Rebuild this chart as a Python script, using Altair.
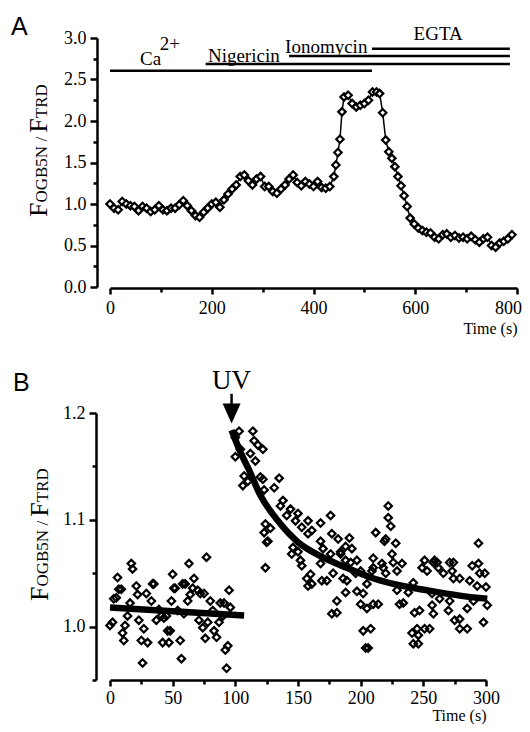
import altair as alt
import pandas as pd

SERIF = "Liberation Serif"
SANS = "Liberation Sans"

# ---------------- Panel A data ----------------
a_time = [0, 8, 16, 24, 32, 40, 48, 56, 64, 72, 80, 88, 96, 104, 112, 120, 128, 136, 144, 152,
          160, 168, 176, 184, 192, 200, 208, 216, 224, 232, 240, 248, 256, 264, 272, 280, 288, 296,
          304, 312, 320, 328, 336, 344, 352, 360, 368, 376, 384, 392, 400, 408, 416, 424, 432, 440,
          444, 448, 452, 456, 460, 468, 476, 484, 492, 500, 508, 516, 524, 530, 536, 542, 548, 554,
          560, 566, 572, 578, 584, 590, 598, 606, 614, 622, 630, 638, 646, 654, 662, 670, 678, 686,
          694, 702, 710, 718, 726, 734, 742, 750, 758, 766, 774, 782, 790]
a_ratio = [1.00, 0.95, 0.93, 1.03, 1.00, 0.98, 0.97, 0.92, 0.97, 0.95, 0.91, 0.93, 0.98, 0.93, 0.92,
           0.95, 0.95, 0.99, 1.04, 0.98, 0.92, 0.86, 0.84, 0.90, 0.95, 1.00, 1.02, 0.96, 1.05, 1.12,
           1.18, 1.23, 1.33, 1.35, 1.28, 1.23, 1.30, 1.33, 1.21, 1.21, 1.15, 1.13, 1.18, 1.23, 1.30,
           1.35, 1.26, 1.22, 1.27, 1.24, 1.21, 1.27, 1.20, 1.19, 1.21, 1.33, 1.47, 1.62, 1.78, 2.11,
           2.29, 2.31, 2.21, 2.17, 2.19, 2.21, 2.25, 2.35, 2.35, 2.33, 2.10, 1.77, 1.63, 1.55, 1.45,
           1.33, 1.22, 1.10, 0.97, 0.83, 0.76, 0.71, 0.68, 0.66, 0.65, 0.60, 0.58, 0.63, 0.64, 0.60,
           0.62, 0.59, 0.60, 0.58, 0.61, 0.57, 0.54, 0.58, 0.60, 0.50, 0.48, 0.53, 0.55, 0.58, 0.63]

bar_name = ["Ca2+", "Nigericin", "Ionomycin", "EGTA"]
bar_start = [0, 188, 352, 515]
bar_end = [515, 786, 786, 786]
bar_level = [2.606, 2.687, 2.783, 2.871]

label_text = ["Nigericin", "Ionomycin", "EGTA"]
label_time = [263, 425, 645]
label_level = [2.71, 2.82, 2.976]

ca_text = ["Ca", "2+"]
ca_time = [59, 98]
ca_level = [2.675, 2.855]

# ---------------- Panel B data ----------------
b_time_pre = [0, 2, 3, 5, 6, 7, 9, 10, 11, 12, 14, 16, 17, 18, 21, 22, 23, 25, 26, 27,
              29, 30, 33, 34, 35, 37, 39, 41, 42, 43, 45, 46, 47, 48, 49, 50, 51, 52, 54, 56,
              57, 58, 59, 60, 62, 63, 64, 66, 67, 70, 71, 72, 74, 75, 76, 77, 78, 80, 82, 83,
              85, 87, 88, 90, 91, 92, 93, 94, 95, 96]
b_ratio_pre = [1.001, 1.004, 1.026, 1.027, 1.046, 1.035, 1.035, 0.994, 0.987, 1.001,
               1.010, 1.022, 1.059, 1.054, 1.038, 1.030, 1.006, 0.987, 0.966, 0.998,
               1.031, 0.985, 1.024, 1.040, 1.040, 1.006, 1.016, 1.010, 0.985, 1.008,
               1.010, 0.996, 0.985, 0.996, 1.024, 1.049, 1.036, 1.036, 1.015, 0.987,
               0.970, 1.040, 1.012, 1.040, 1.024, 1.059, 1.030, 1.036, 1.045, 1.034,
               1.006, 1.031, 0.999, 1.031, 0.989, 1.065, 1.004, 1.024, 1.015, 0.996,
               0.990, 1.004, 1.022, 1.010, 1.022, 0.978, 0.961, 0.982, 1.034, 1.018]

b_time_post = [100, 100, 103, 104, 106, 107, 110, 112, 114, 115,
               116, 118, 120, 122, 122, 123, 123, 124, 124, 125,
               126, 128, 131, 135, 136, 138, 141, 144, 145, 146,
               148, 150, 150, 152, 153, 153, 157, 158, 158, 158,
               160, 161, 161, 168, 168, 168, 169, 170, 173, 176,
               176, 177, 177, 178, 181, 181, 182, 184, 184, 186,
               188, 188, 188, 189, 191, 192, 193, 196, 197, 197,
               200, 200, 202, 202, 204, 205, 205, 206, 208, 209,
               210, 210, 210, 212, 214, 217, 218, 219, 220, 220,
               222, 222, 224, 225, 226, 228, 229, 229, 231, 233,
               234, 238, 241, 242, 242, 243, 245, 246, 246, 247,
               249, 251, 251, 253, 255, 257, 257, 258, 258, 259,
               261, 262, 263, 266, 270, 271, 271, 273, 274, 274,
               275, 279, 279, 279, 285, 285, 287, 289, 290, 293,
               294, 294, 295, 298, 299, 300, 301]
b_ratio_post = [1.177, 1.159, 1.183, 1.166, 1.132, 1.141, 1.136, 1.162, 1.183, 1.174,
                1.155, 1.170, 1.140, 1.166, 1.138, 1.128, 1.088, 1.096, 1.055, 1.079,
                1.080, 1.092, 1.130, 1.139, 1.113, 1.118, 1.104, 1.110, 1.068, 1.074,
                1.099, 1.106, 1.070, 1.062, 1.093, 1.057, 1.045, 1.099, 1.038, 1.087,
                1.049, 1.040, 1.090, 1.097, 1.080, 1.059, 1.043, 1.073, 1.043, 1.104,
                1.068, 1.087, 1.012, 1.050, 1.024, 1.013, 1.082, 1.070, 1.068, 1.045,
                1.062, 1.032, 1.075, 1.043, 1.083, 1.060, 1.073, 1.050, 1.062, 1.033,
                1.052, 1.021, 1.031, 0.996, 0.980, 1.040, 1.017, 0.980, 0.998, 1.052,
                1.064, 1.021, 1.055, 1.088, 1.021, 1.059, 1.055, 1.080, 1.082, 1.050,
                1.113, 1.102, 1.094, 1.068, 1.060, 1.078, 1.052, 1.034, 1.021, 1.059,
                1.022, 1.032, 0.994, 1.041, 0.984, 1.013, 0.998, 0.992, 0.984, 1.015,
                1.055, 1.062, 0.998, 1.052, 0.998, 1.020, 1.031, 1.060, 1.012, 1.062,
                1.060, 1.055, 1.026, 1.050, 1.015, 1.024, 1.060, 1.052, 1.045, 1.060,
                1.006, 1.045, 1.007, 0.998, 1.017, 0.998, 1.043, 1.057, 1.024, 1.038,
                1.078, 1.059, 1.050, 1.004, 1.050, 1.037, 1.020]

base_fit_time = [0, 107]
base_fit_ratio = [1.0178, 1.0103]
decay_fit_time = [97, 100, 105, 110, 120, 134, 150, 168, 189, 208, 226, 253, 279, 301]
decay_fit_ratio = [1.184, 1.175, 1.161, 1.149, 1.123, 1.099, 1.079, 1.066, 1.055, 1.046,
                   1.040, 1.034, 1.029, 1.026]

uv_time = [97]
uv_text_level = [1.2225]
uv_shaft_top = [1.218]
uv_shaft_bottom = [1.205]
uv_head_level = [1.1995]

# ---------------- helpers ----------------
def axis_common(**kw):
    base = dict(grid=False, domainColor="black", domainWidth=2.5, tickColor="black",
                tickWidth=2.5, labelColor="black", labelFont=SERIF, labelFontSize=18,
                labelOverlap=False, labelFlush=False, titleFont=SERIF, titleFontSize=16,
                titleFontWeight="normal", titleColor="black")
    base.update(kw)
    return alt.Axis(**base)

# Times New Roman advance widths (em)
TW = {"F": 0.556, "O": 0.722, "G": 0.722, "B": 0.667, "5": 0.5, "N": 0.722, " ": 0.25,
      "/": 0.278, "T": 0.611, "R": 0.667, "D": 0.722}
BIG, SMALL = 26, 17
pieces = [("F", BIG), ("OGB5N / ", SMALL), ("F", BIG), ("TRD", SMALL)]


def ytitle_layers(x_base, y_bottom):
    layers = []
    pos = y_bottom
    for txt, size in pieces:
        layers.append(
            alt.Chart(pd.DataFrame({"t": [txt]})).mark_text(
                font=SERIF, fontSize=size, angle=270, align="left", baseline="alphabetic",
                color="black"
            ).encode(x=alt.value(x_base), y=alt.value(pos), text="t:N")
        )
        pos -= sum(TW[c] for c in txt) * size
    return layers


# ---------------- Panel A ----------------
WA, HA = 407, 249
dfa = pd.DataFrame({"t": a_time, "r": a_ratio})
xa_scale = alt.Scale(domain=[0, 800], nice=False, zero=False)
ya_scale = alt.Scale(domain=[0, 3], nice=False, zero=False)

xa_axis = axis_common(values=list(range(0, 801, 100)),
                      labelExpr="datum.value % 200 == 0 ? datum.label : ''",
                      tickSize={"condition": {"test": "datum.value % 200 == 0", "value": 6}, "value": 4},
                      labelOffset={"condition": {"test": "datum.value == 800", "value": -9}, "value": 0},
                      labelPadding=5, offset=1, title="Time (s)", titleAnchor="end",
                      titleX=WA, titleY=45, titleAlign="right", titleBaseline="alphabetic")
ya_axis = axis_common(values=[i * 0.25 for i in range(13)], format=".1f",
                      labelExpr="round(datum.value * 4) % 2 == 0 ? datum.label : ''",
                      tickSize={"condition": {"test": "round(datum.value * 4) % 2 == 0", "value": 7}, "value": 4},
                      labelPadding=4, offset=13, title="")


def XA(f):
    return alt.X(f, scale=xa_scale, axis=xa_axis, title="Time (s)")


def YA(f):
    return alt.Y(f, scale=ya_scale, axis=ya_axis, title="")


line_a = alt.Chart(dfa).mark_line(color="black", strokeWidth=1.5).encode(
    x=XA("t:Q"), y=YA("r:Q"))
pts_a = alt.Chart(dfa).mark_point(shape="diamond", size=55, filled=True, fill="white",
                                  stroke="black", strokeWidth=2.2, opacity=1).encode(
    x=XA("t:Q"), y=YA("r:Q"))
bars_a = alt.Chart(pd.DataFrame({"n": bar_name, "s": bar_start, "e": bar_end, "l": bar_level})).mark_rule(
    color="black", strokeWidth=2.5).encode(
    x=XA("s:Q"), x2="e:Q", y=YA("l:Q"))
labels_a = alt.Chart(pd.DataFrame({"txt": label_text, "t": label_time, "l": label_level})).mark_text(
    font=SERIF, fontSize=19, align="center", baseline="alphabetic", color="black").encode(
    x=XA("t:Q"), y=YA("l:Q"), text="txt:N")
ca_a = alt.Chart(pd.DataFrame({"txt": ca_text, "t": ca_time, "l": ca_level})).mark_text(
    font=SERIF, fontSize=19, align="left", baseline="alphabetic", color="black").encode(
    x=XA("t:Q"), y=YA("l:Q"), text="txt:N")
tag_a = alt.Chart(pd.DataFrame({"t": ["A"]})).mark_text(
    font=SANS, fontSize=25, align="left", baseline="alphabetic", color="black").encode(
    x=alt.value(-99), y=alt.value(-3), text="t:N")

panel_a = alt.layer(line_a, pts_a, bars_a, labels_a, ca_a, tag_a,
                    *ytitle_layers(-63, 179)).properties(width=WA, height=HA)

# ---------------- Panel B ----------------
WB, HB = 376, 267
dfb = pd.DataFrame({"t": b_time_pre + b_time_post, "r": b_ratio_pre + b_ratio_post})
xb_scale = alt.Scale(domain=[0, 300], nice=False, zero=False)
yb_scale = alt.Scale(domain=[0.95, 1.2], nice=False, zero=False)

xb_axis = axis_common(values=list(range(0, 301, 25)),
                      labelExpr="datum.value % 50 == 0 ? datum.label : ''",
                      tickSize={"condition": {"test": "datum.value % 50 == 0", "value": 6}, "value": 4},
                      labelPadding=3, offset=0, title="Time (s)", titleAnchor="end",
                      titleX=WB, titleY=40, titleAlign="right", titleBaseline="alphabetic")
yb_axis = axis_common(values=[0.95, 1.0, 1.05, 1.1, 1.15, 1.2], format=".1f",
                      labelExpr="round(datum.value * 100) % 10 == 0 ? datum.label : ''",
                      tickSize={"condition": {"test": "round(datum.value * 100) % 10 == 0", "value": 7}, "value": 4},
                      labelPadding=4, offset=14, title="")


def XB(f):
    return alt.X(f, scale=xb_scale, axis=xb_axis, title="Time (s)")


def YB(f):
    return alt.Y(f, scale=yb_scale, axis=yb_axis, title="")


pts_b = alt.Chart(dfb).mark_point(shape="diamond", size=55, filled=False,
                                  stroke="black", strokeWidth=2.2, opacity=1).encode(
    x=XB("t:Q"), y=YB("r:Q"))
base_fit = alt.Chart(pd.DataFrame({"t": base_fit_time, "r": base_fit_ratio})).mark_line(
    color="black", strokeWidth=6.5, strokeCap="butt").encode(
    x=XB("t:Q"), y=YB("r:Q"))
decay_fit = alt.Chart(pd.DataFrame({"t": decay_fit_time, "r": decay_fit_ratio})).mark_line(
    color="black", strokeWidth=6.5, strokeCap="butt", interpolate="monotone").encode(
    x=XB("t:Q"), y=YB("r:Q"))
uv_df = pd.DataFrame({"t": uv_time, "lt": uv_text_level, "s1": uv_shaft_top,
                      "s2": uv_shaft_bottom, "h": uv_head_level, "txt": ["UV"]})
uv_text = alt.Chart(uv_df).mark_text(font=SERIF, fontSize=27, align="center",
                                     baseline="alphabetic", color="black").encode(
    x=XB("t:Q"), y=YB("lt:Q"), text="txt:N")
uv_shaft = alt.Chart(uv_df).mark_rule(color="black", strokeWidth=2.5).encode(
    x=XB("t:Q"), y=YB("s1:Q"), y2="s2:Q")
uv_head = alt.Chart(uv_df).mark_point(shape="M-0.9,-1L0.9,-1L0,1Z", size=400, filled=True,
                                      fill="black", strokeWidth=0, opacity=1).encode(
    x=XB("t:Q"), y=YB("h:Q"))
tag_b = alt.Chart(pd.DataFrame({"t": ["B"]})).mark_text(
    font=SANS, fontSize=25, align="left", baseline="alphabetic", color="black").encode(
    x=alt.value(-97), y=alt.value(-22), text="t:N")

panel_b = alt.layer(pts_b, base_fit, decay_fit, uv_text, uv_shaft, uv_head, tag_b,
                    *ytitle_layers(-62, 188)).properties(width=WB, height=HB)

chart = alt.vconcat(panel_a, panel_b, spacing=30).properties(
    padding={"left": 3, "top": 7, "right": 0, "bottom": 1}, background="white"
).configure_view(stroke=None)

chart.save("out.html", embed_options={"renderer": "svg", "actions": False})
